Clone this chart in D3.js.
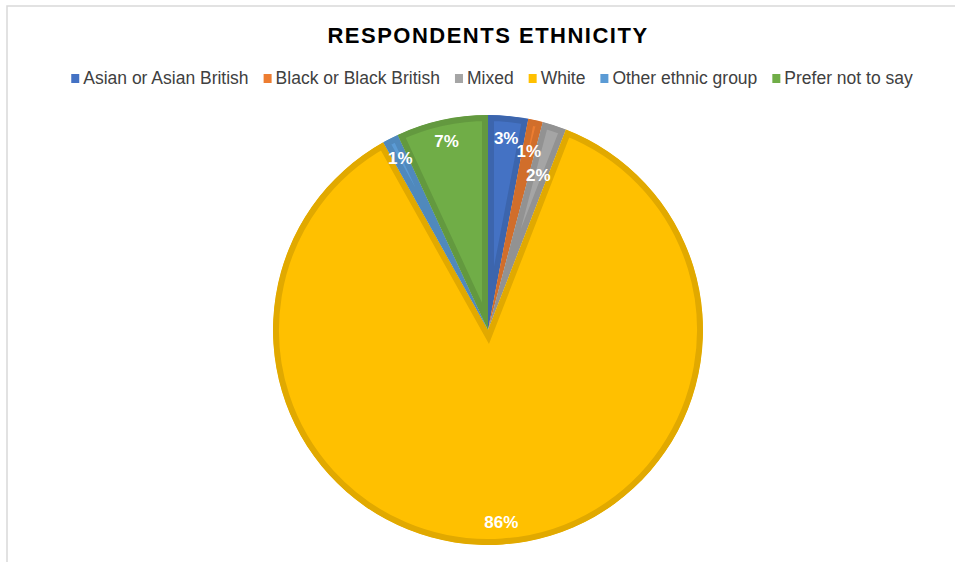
<!DOCTYPE html>
<html>
<head>
<meta charset="utf-8">
<script src="https://cdn.jsdelivr.net/npm/d3@7"></script>
<style>
  body { margin: 0; background: #fff; }
  text { font-family: "Liberation Sans", Arial, sans-serif; }
</style>
</head>
<body>
<div id="chart"></div>
<script>
// data (share of respondents, %)
let categories = ["Asian or Asian British", "Black or Black British", "Mixed", "White", "Other ethnic group", "Prefer not to say"];
let values = [3.0, 1.1, 1.8, 86.0, 1.2, 6.9];
let colors = ["#4472C4", "#ED7D31", "#A5A5A5", "#FFC000", "#5B9BD5", "#70AD47"];

let width = 955, height = 562;
let cx = 488, cy = 330, radius = 215;
let ring = 6; // darker inner border of each slice

let svg = d3.select("#chart").append("svg")
  .attr("width", width)
  .attr("height", height);

// chart area frame
svg.append("rect")
  .attr("x", 7).attr("y", 6)
  .attr("width", width).attr("height", height)
  .attr("fill", "none")
  .attr("stroke", "#d9d9d9")
  .attr("stroke-width", 1.5);

// title
svg.append("text")
  .attr("x", 488).attr("y", 43)
  .attr("text-anchor", "middle")
  .attr("font-size", "22px")
  .attr("font-weight", "bold")
  .attr("letter-spacing", "1.5px")
  .attr("fill", "#000")
  .text("RESPONDENTS ETHNICITY");

// legend, laid out from measured text widths and centred
let color = d3.scaleOrdinal().domain(categories).range(colors);
let legend = svg.append("g");
let lx = 0;
categories.forEach((d, i) => {
  let item = legend.append("g").attr("transform", `translate(${lx},0)`);
  item.append("rect")
    .attr("x", 0).attr("y", -10)
    .attr("width", 8).attr("height", 9)
    .attr("fill", color(d));
  let t = item.append("text")
    .attr("x", 12).attr("y", 0)
    .attr("font-size", "17.5px")
    .attr("fill", "#404040")
    .text(d);
  lx += 12 + t.node().getComputedTextLength() + 15;
});
lx -= 15;
legend.attr("transform", `translate(${492 - lx / 2},84)`);

// pie
let pie = d3.pie().sort(null).value(d => d.value);
let arcs = pie(categories.map((c, i) => ({ name: c, value: values[i] })));
let arc = d3.arc().innerRadius(0).outerRadius(radius);
let total = d3.sum(values);

let g = svg.append("g").attr("transform", `translate(${cx},${cy})`);
let defs = svg.append("defs");

arcs.forEach((d, i) => {
  defs.append("clipPath").attr("id", "clip" + i)
    .append("path").attr("d", arc(d));
});

g.selectAll(".slice")
  .data(arcs)
  .enter()
  .append("path")
  .attr("class", "slice")
  .attr("d", arc)
  .attr("clip-path", (d, i) => `url(#clip${i})`)
  .attr("fill", d => color(d.data.name))
  .attr("stroke", d => d3.color(color(d.data.name)).darker(0.35))
  .attr("stroke-width", ring * 2)
  .attr("stroke-linejoin", "miter");

// data labels, inside end; crowded small slices pulled inward
let labelRadius = { "Black or Black British": 184, "Mixed": 163 };
g.selectAll(".label")
  .data(arcs)
  .enter()
  .append("text")
  .attr("class", "label")
  .attr("transform", d => {
    let a = (d.startAngle + d.endAngle) / 2;
    let r = labelRadius[d.data.name] || 193;
    return `translate(${Math.sin(a) * r},${-Math.cos(a) * r})`;
  })
  .attr("text-anchor", "middle")
  .attr("dy", "0.35em")
  .attr("font-size", "17px")
  .attr("font-weight", "bold")
  .attr("fill", "#fff")
  .text(d => Math.round(d.value / total * 100) + "%");
</script>
</body>
</html>
